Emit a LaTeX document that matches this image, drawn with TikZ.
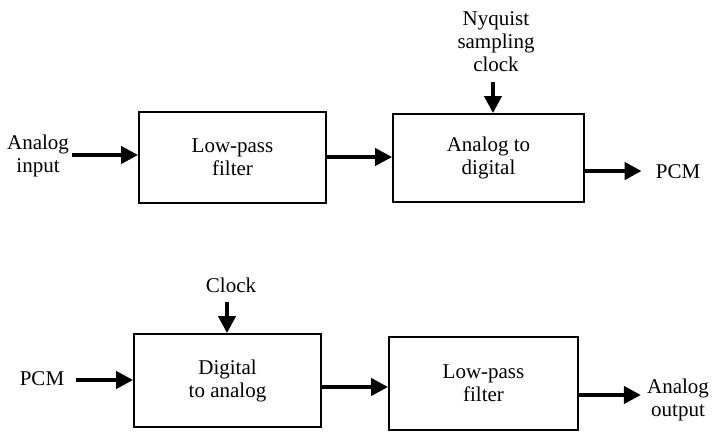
\documentclass[tikz,border=0pt]{standalone}
\usepackage{fontspec}
\setmainfont{Liberation Serif}
\usetikzlibrary{arrows.meta}
\begin{document}
\begin{tikzpicture}[x=1pt,y=-1pt,
  block/.style={draw,line width=1.8pt,inner sep=0pt,align=center,
    font=\fontsize{21}{23}\selectfont},
  lbl/.style={align=center,inner sep=0pt,font=\fontsize{21}{23}\selectfont},
  sig/.style={line width=4pt,-{Triangle[length=17pt,width=17pt]}}]
\useasboundingbox (0,0) rectangle (716,436);

% transmitter chain
\node[block,minimum width=187pt,minimum height=91pt] (lpfa) at (232.5,157.5) {Low-pass\\filter};
\node[block,minimum width=191pt,minimum height=88pt] (adc) at (488.5,158) {Analog to\\digital};
\node[lbl] (ain) at (38,156) {Analog\\input};
\node[lbl] (nyq) at (496,42) {Nyquist\\sampling\\clock};
\node[lbl] (pcmout) at (678,172) {PCM};

\coordinate (nyqtop) at (493,82);
\draw[sig] ([xshift=3pt]ain.east |- 0,155) -- (lpfa.west |- 0,155);
\draw[sig] (lpfa.east |- 0,157) -- (adc.west |- 0,157);
\draw[sig] (nyqtop) -- (adc.north -| nyqtop);
\draw[sig] (adc.east |- 0,171) -- ([xshift=-14pt]pcmout.west |- 0,171);

% receiver chain
\node[block,minimum width=187pt,minimum height=93pt] (dac) at (227.5,380.5) {Digital\\to analog};
\node[block,minimum width=189pt,minimum height=93pt] (lpfb) at (483.5,383.5) {Low-pass\\filter};
\node[lbl] (pcmin) at (42,379) {PCM};
\node[lbl] (clk) at (231,285) {Clock};
\node[lbl] (aout) at (678,400) {Analog\\output};

\draw[sig] ([xshift=12pt]pcmin.east |- 0,380) -- (dac.west |- 0,380);
\draw[sig] ([yshift=-9pt]clk.south -| 227,0) -- (dac.north -| 227,0);
\draw[sig] (dac.east |- 0,387) -- (lpfb.west |- 0,387);
\draw[sig] (lpfb.east |- 0,395) -- ([xshift=-6pt]aout.west |- 0,395);
\end{tikzpicture}
\end{document}
